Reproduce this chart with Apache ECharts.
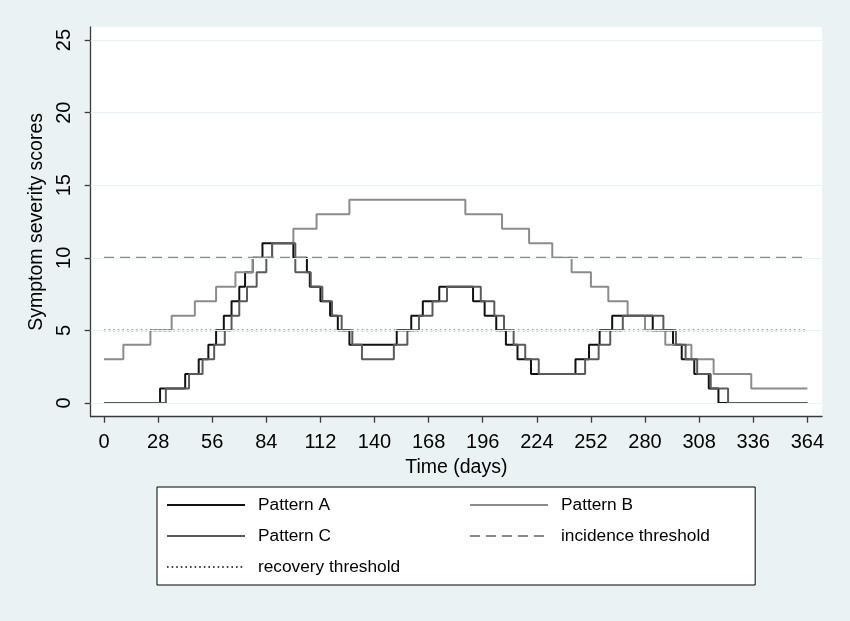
<!DOCTYPE html>
<html>
<head>
<meta charset="utf-8">
<script src="https://cdn.jsdelivr.net/npm/echarts@6/dist/echarts.min.js"></script>
<style>
  html, body { margin: 0; padding: 0; background: #eaf2f3; }
  #grafico { width: 850px; height: 621px; }
</style>
</head>
<body>
<div id="grafico"></div>
<script>
// marcas de los ejes
const diasTicks = [0, 28, 56, 84, 112, 140, 168, 196, 224, 252, 280, 308, 336, 364];
const puntuacionTicks = [0, 5, 10, 15, 20, 25];

// cada patrón: [día en que cambia, nueva puntuación]
const patronA = [
  [0, 0], [29, 1], [42, 2], [49, 3], [54, 4], [58, 5], [62, 6], [66, 7], [70, 8], [73, 9],
  [77, 10], [82, 11], [98, 10], [105, 9], [106.5, 8], [112, 7], [117, 6], [121, 5], [127, 4],
  [151.5, 5], [159, 6], [165, 7], [173.5, 8], [191, 7], [197, 6], [203, 5], [208, 4], [214, 3],
  [221, 2], [244, 3], [251, 4], [256.5, 5], [263, 6], [284, 5], [294.5, 4], [299, 3], [305.5, 2],
  [313, 1], [318, 0], [364, 0]
];
const patronB = [
  [0, 3], [10, 4], [24, 5], [35, 6], [47, 7], [58, 8], [68, 9], [77, 10], [87, 11], [98, 12],
  [110, 13], [127, 14], [187, 13], [206, 12], [220, 11], [232, 10], [242, 9], [252, 8], [261, 7],
  [271, 6], [280, 5], [290.5, 4], [304, 3], [315.5, 2], [335, 1], [364, 1]
];
const patronC = [
  [0, 0], [32, 1], [44, 2], [51, 3], [57, 4], [62.5, 5], [66, 6], [70, 7], [74, 8], [79, 9],
  [84, 10], [87, 11], [99, 9], [107, 8], [113, 7], [118, 6], [123, 5], [128.5, 4], [133.5, 3],
  [150, 4], [157, 5], [163, 6], [170, 7], [177.5, 8], [195, 7], [202, 6], [207, 5], [212, 4],
  [218, 3], [225, 2], [249, 3], [256, 4], [262, 5], [268.5, 6], [289.5, 5], [296, 4], [301, 3],
  [307, 2], [314, 1], [323, 0], [364, 0]
];
const umbralIncidencia = 10;
const umbralRecuperacion = 5;
const diaInicio = 0;
const diaFin = 364;

const fuente = "'Liberation Sans', Arial, sans-serif";
const colorEje = '#3a3a3a';

function serieEscalon(nombre, datos, color) {
  return {
    name: nombre,
    type: 'line',
    step: 'end',
    data: datos,
    symbol: 'none',
    lineStyle: { color: color, width: 2 },
    itemStyle: { color: color },
    z: 3
  };
}

function serieUmbral(nombre, valor, color, ancho, tipo) {
  return {
    name: nombre,
    type: 'line',
    data: [[diaInicio, valor], [diaFin, valor]],
    symbol: 'none',
    lineStyle: { color: color, width: ancho, type: tipo },
    itemStyle: { color: color },
    z: 3
  };
}

const leyendaComun = {
  orient: 'vertical',
  itemWidth: 78,
  itemHeight: 17,
  itemGap: 14,
  selectedMode: false,
  itemStyle: { opacity: 0 },
  textStyle: { fontSize: 17.3, lineHeight: 17, color: '#000', fontFamily: fuente, padding: [0, 0, 0, 8] }
};

const opciones = {
  animation: false,
  backgroundColor: '#eaf2f3',
  grid: {
    left: 90.7, right: 28, top: 27, bottom: 204.3,
    show: true, backgroundColor: '#ffffff', borderWidth: 0
  },
  legend: [
    Object.assign({}, leyendaComun, {
      data: ['Pattern A', 'Pattern C', 'recovery threshold'],
      left: 157, top: 487,
      padding: [9.5, 355, 9.5, 9],
      backgroundColor: '#ffffff',
      borderColor: '#000',
      borderWidth: 1,
      z: 4
    }),
    Object.assign({}, leyendaComun, {
      data: ['Pattern B', 'incidence threshold'],
      left: 469, top: 496.5,
      padding: 0,
      z: 6
    })
  ],
  xAxis: {
    type: 'value',
    min: -6.9, max: 371.6,
    name: 'Time (days)',
    nameLocation: 'middle',
    nameGap: 38,
    nameTextStyle: { fontSize: 19.5, color: '#000', fontFamily: fuente },
    axisLine: { show: true, onZero: false, lineStyle: { color: colorEje, width: 1.3 } },
    axisTick: { show: true, length: 6, customValues: diasTicks, lineStyle: { color: colorEje, width: 1.3 } },
    axisLabel: { customValues: diasTicks, fontSize: 20, color: '#000', fontFamily: fuente, margin: 16 },
    splitLine: { show: false }
  },
  yAxis: {
    type: 'value',
    min: -0.95, max: 25.9,
    name: 'Symptom severity scores',
    nameLocation: 'middle',
    nameGap: 38,
    nameTextStyle: { fontSize: 19.5, color: '#000', fontFamily: fuente },
    axisLine: { show: true, onZero: false, lineStyle: { color: colorEje, width: 1.3 } },
    axisTick: { show: true, length: 6, customValues: puntuacionTicks, lineStyle: { color: colorEje, width: 1.3 } },
    axisLabel: { customValues: puntuacionTicks, rotate: 90, fontSize: 20, color: '#000', fontFamily: fuente, margin: 16 },
    splitLine: { show: false }
  },
  series: [
    {
      // líneas de rejilla horizontales
      name: 'rejilla',
      type: 'line',
      data: [],
      z: 1,
      silent: true,
      markLine: {
        silent: true,
        symbol: ['none', 'none'],
        label: { show: false },
        lineStyle: { color: '#eaf2f3', width: 1.2, type: 'solid' },
        data: puntuacionTicks.map(v => ({ yAxis: v }))
      }
    },
    serieEscalon('Pattern A', patronA, '#111111'),
    serieEscalon('Pattern B', patronB, '#8c8c8c'),
    serieEscalon('Pattern C', patronC, '#5a5a5a'),
    serieUmbral('incidence threshold', umbralIncidencia, '#8a8a8a', 2, [10, 6]),
    serieUmbral('recovery threshold', umbralRecuperacion, '#444444', 1.8, [1.6, 3])
  ]
};

const miGrafico = echarts.init(document.getElementById('grafico'));
miGrafico.setOption(opciones);
</script>
</body>
</html>
